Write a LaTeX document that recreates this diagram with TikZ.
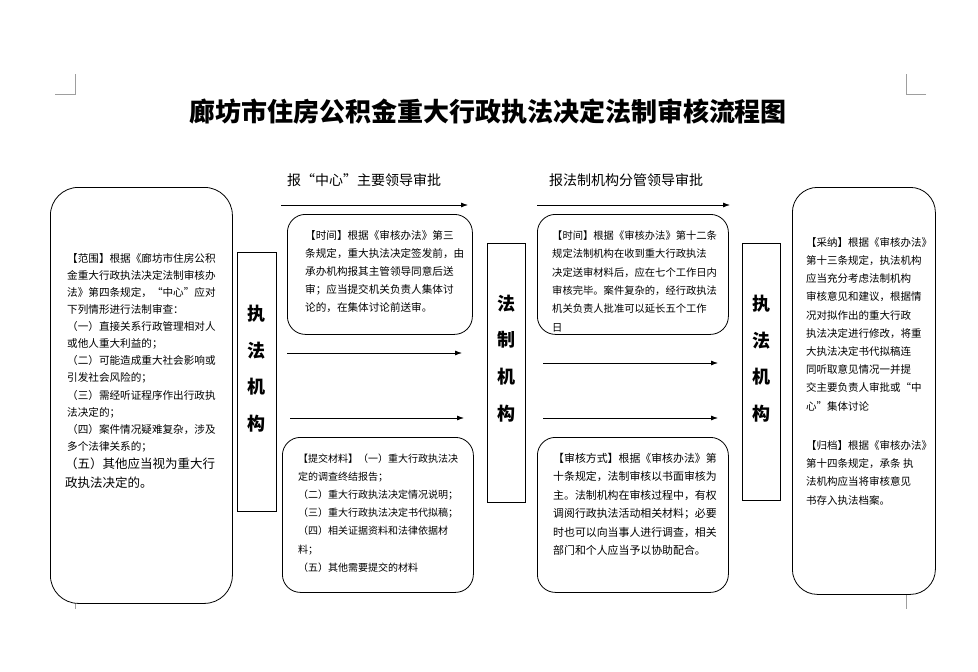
\documentclass[tikz,border=0pt]{standalone}
\usepackage{fontspec}
\setmainfont{Noto Sans CJK SC}
\usetikzlibrary{arrows.meta}
\begin{document}
\begin{tikzpicture}[x=1pt,y=-1pt,
  frame/.style={draw=black,line width=0.8pt,fill=white,inner sep=0pt,anchor=north west},
  txt/.style={anchor=north west,align=left,inner sep=0pt},
  vlabel/.style={anchor=north,align=center,inner sep=0pt,font=\fontsize{18}{36.7}\selectfont\bfseries},
  arr/.style={-{Latex[length=7pt,width=5pt]},line width=0.8pt},
  cropmark/.style={draw=black!38,line width=1pt}
]
\useasboundingbox[fill=white] (0,0) rectangle (978,672);

% crop marks
\draw[cropmark] (55,94) -- (75.7,94) -- (75.7,74);
\draw[cropmark] (926,94) -- (906,94) -- (906,74);
\draw[cropmark] (75.7,590) -- (75.7,609);
\draw[cropmark] (906,585) -- (906,609);

% title and headers
\node[font=\fontsize{26}{26}\selectfont\bfseries,inner sep=0pt] (title) at (488,112) {廊坊市住房公积金重大行政执法决定法制审核流程图};
\node[font=\fontsize{14}{14}\selectfont,anchor=west,inner sep=0pt] (h1) at (287,180) {报“中心”主要领导审批};
\node[font=\fontsize{14}{14}\selectfont,anchor=west,inner sep=0pt] (h2) at (549,180) {报法制机构分管领导审批};

% boxes
\node[frame,rounded corners=28pt,minimum width=182pt,minimum height=416pt] (scope) at (50,187) {};
\node[frame,minimum width=39pt,minimum height=259pt] (lorg) at (237,252) {};
\node[frame,rounded corners=18pt,minimum width=185pt,minimum height=120pt] (mtop) at (287,214) {};
\node[frame,rounded corners=18pt,minimum width=191pt,minimum height=155pt] (mbot) at (282,437) {};
\node[frame,minimum width=38pt,minimum height=259pt] (legal) at (487,243) {};
\node[frame,rounded corners=18pt,minimum width=191pt,minimum height=120pt] (rtop) at (537,214) {};
\node[frame,rounded corners=18pt,minimum width=191pt,minimum height=155pt] (rbot) at (537,437) {};
\node[frame,minimum width=38pt,minimum height=257pt] (rorg) at (742,243) {};
\node[frame,rounded corners=25pt,minimum width=143pt,minimum height=407pt] (far) at (792,187) {};

% vertical labels
\node[vlabel] (lorgt) at (256.5,304.7) {执\\法\\机\\构};
\node[vlabel] (legalt) at (506,294.7) {法\\制\\机\\构};
\node[vlabel] (rorgt) at (761,294.7) {执\\法\\机\\构};

% arrows
\coordinate (a1s) at (281,205); \coordinate (a1e) at (468,205);
\coordinate (a2s) at (537,205); \coordinate (a2e) at (730,205);
\coordinate (a3s) at (287,353); \coordinate (a3e) at (462,353);
\coordinate (a4s) at (290,418); \coordinate (a4e) at (464,418);
\coordinate (a5s) at (543,363); \coordinate (a5e) at (718,363);
\coordinate (a6s) at (543,418); \coordinate (a6e) at (718,418);
\draw[arr] (a1s) -- (a1e);
\draw[arr] (a2s) -- (a2e);
\draw[arr] (a3s) -- (a3e);
\draw[arr] (a4s) -- (a4e);
\draw[arr] (a5s) -- (a5e);
\draw[arr] (a6s) -- (a6e);

% texts
\node[txt,font=\fontsize{10.6}{17.1}\selectfont] (scopet) at (67,253.1) {【范围】根据《廊坊市住房公积\\金重大行政执法决定法制审核办\\法》第四条规定，“中心”应对\\下列情形进行法制审查：\\（一）直接关系行政管理相对人\\或他人重大利益的；\\（二）可能造成重大社会影响或\\引发社会风险的；\\（三）需经听证程序作出行政执\\法决定的；\\（四）案件情况疑难复杂，涉及\\多个法律关系的；};
\node[txt,font=\fontsize{12.5}{19}\selectfont] (scopet2) at (65,457.3) {（五）其他应当视为重大行\\政执法决定的。};

\node[txt,font=\fontsize{10.6}{18}\selectfont] (mtopt) at (305,230.1) {【时间】根据《审核办法》第三\\条规定，重大执法决定签发前，由\\承办机构报其主管领导同意后送\\审；应当提交机关负责人集体讨\\论的，在集体讨论前送审。};

\node[txt,font=\fontsize{10}{18.2}\selectfont] (mbott) at (298,453.4) {【提交材料】（一）重大行政执法决\\定的调查终结报告；\\（二）重大行政执法决定情况说明；\\（三）重大行政执法决定书代拟稿；\\（四）相关证据资料和法律依据材\\料；\\（五）其他需要提交的材料};

\node[txt,font=\fontsize{10.3}{18.4}\selectfont] (rtopt) at (552,230.3) {【时间】根据《审核办法》第十二条\\规定法制机构在收到重大行政执法\\决定送审材料后，应在七个工作日内\\审核完毕。案件复杂的，经行政执法\\机关负责人批准可以延长五个工作\\日};

\node[txt,font=\fontsize{10.9}{18.4}\selectfont] (rbott) at (553,453) {【审核方式】根据《审核办法》第\\十条规定，法制审核以书面审核为\\主。法制机构在审核过程中，有权\\调阅行政执法活动相关材料；必要\\时也可以向当事人进行调查，相关\\部门和个人应当予以协助配合。};

\node[txt,font=\fontsize{10.5}{18.2}\selectfont] (fart) at (806,237.2) {【采纳】根据《审核办法》\\第十三条规定，执法机构\\应当充分考虑法制机构\\审核意见和建议，根据情\\况对拟作出的重大行政\\执法决定进行修改，将重\\大执法决定书代拟稿连\\同听取意见情况一并提\\交主要负责人审批或“中\\心”集体讨论};
\node[txt,font=\fontsize{10.5}{18.3}\selectfont] (fart2) at (806,440.2) {【归档】根据《审核办法》\\第十四条规定，承条 执\\法机构应当将审核意见\\书存入执法档案。};
\end{tikzpicture}
\end{document}
